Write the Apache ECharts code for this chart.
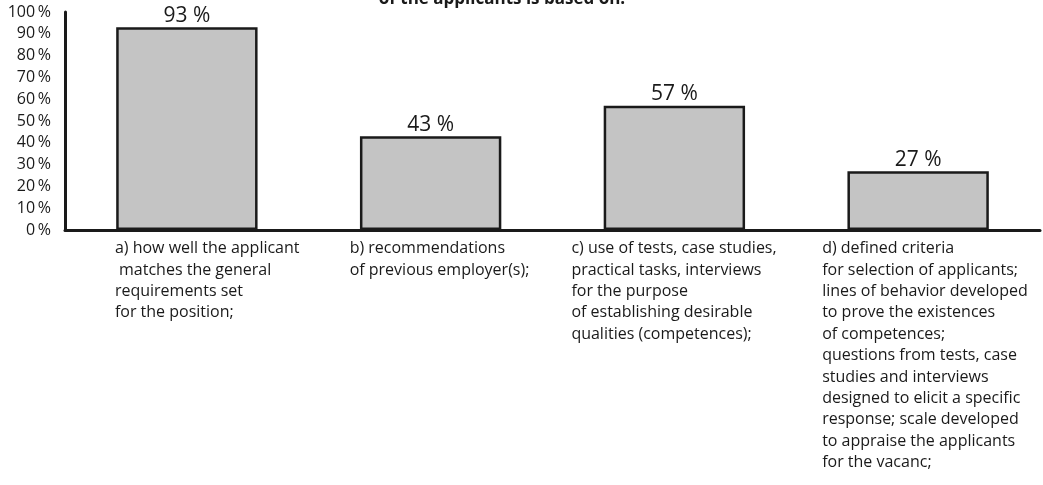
<!DOCTYPE html>
<html>
<head>
<meta charset="utf-8">
<script src="https://cdn.jsdelivr.net/npm/echarts@6/dist/echarts.min.js"></script>
<style>
  html, body { margin: 0; padding: 0; background: #fff; }
  #chart { width: 1043px; height: 485px; }
</style>
</head>
<body>
<div id="chart"></div>
<script>
// Share of respondents per selection basis
const categories = [
  'a) how well the applicant\n matches the general\nrequirements set\nfor the position;',
  'b) recommendations\nof previous employer(s);',
  'c) use of tests, case studies,\npractical tasks, interviews\nfor the purpose\nof establishing desirable\nqualities (competences);',
  'd) defined criteria\nfor selection of applicants;\nlines of behavior developed\nto prove the existences\nof competences;\nquestions from tests, case\nstudies and interviews\ndesigned to elicit a specific\nresponse; scale developed\nto appraise the applicants\nfor the vacanc;'
];
const values = [93, 43, 57, 27];
const yTicks = [0, 10, 20, 30, 40, 50, 60, 70, 80, 90, 100];
const titleText = 'of the applicants is based on:';

// horizontal shift of each category caption from its band centre
const captionShift = [-72, -81, -103, -96];

const FONT = '"Open Sans", "Noto Sans", sans-serif';
const chart = echarts.init(document.getElementById('chart'));

chart.setOption({
  animation: false,
  backgroundColor: '#ffffff',
  title: {
    text: titleText,
    left: 497,
    top: -14,
    textAlign: 'center',
    textStyle: { fontFamily: FONT, fontSize: 17, fontWeight: 'bold', color: '#1a1a1a' }
  },
  grid: { left: 65, right: 3, top: 12, bottom: 255, containLabel: false },
  xAxis: {
    type: 'category',
    data: categories,
    axisLine: { lineStyle: { color: '#1a1a1a', width: 3 } },
    axisTick: { show: false },
    axisLabel: { show: false }
  },
  yAxis: {
    type: 'value',
    min: yTicks[0],
    max: yTicks[yTicks.length - 1],
    interval: 10,
    splitLine: { show: false },
    axisTick: { show: false },
    axisLine: { show: true, lineStyle: { color: '#1a1a1a', width: 3 } },
    axisLabel: {
      margin: 14,
      fontFamily: FONT,
      fontSize: 16,
      color: '#1a1a1a',
      formatter: v => v + '\u2009%'
    }
  },
  series: [{
    type: 'bar',
    data: values,
    barWidth: '58%',
    itemStyle: { color: '#c4c4c4', borderColor: '#1a1a1a', borderWidth: 2.5 },
    label: {
      show: true,
      position: 'top',
      distance: 1,
      fontFamily: FONT,
      fontSize: 21,
      color: '#1a1a1a',
      formatter: p => p.value + ' %'
    }
  }]
});

// category captions below the axis, left-aligned blocks
const captions = categories.map((txt, i) => {
  const cx = chart.convertToPixel({ xAxisIndex: 0 }, i);
  return {
    type: 'text',
    left: cx + captionShift[i],
    top: 238,
    style: {
      text: txt,
      fontFamily: FONT,
      fontSize: 16,
      lineHeight: 21.4,
      fill: '#1a1a1a',
      align: 'left'
    }
  };
});
chart.setOption({ graphic: captions });
</script>
</body>
</html>
